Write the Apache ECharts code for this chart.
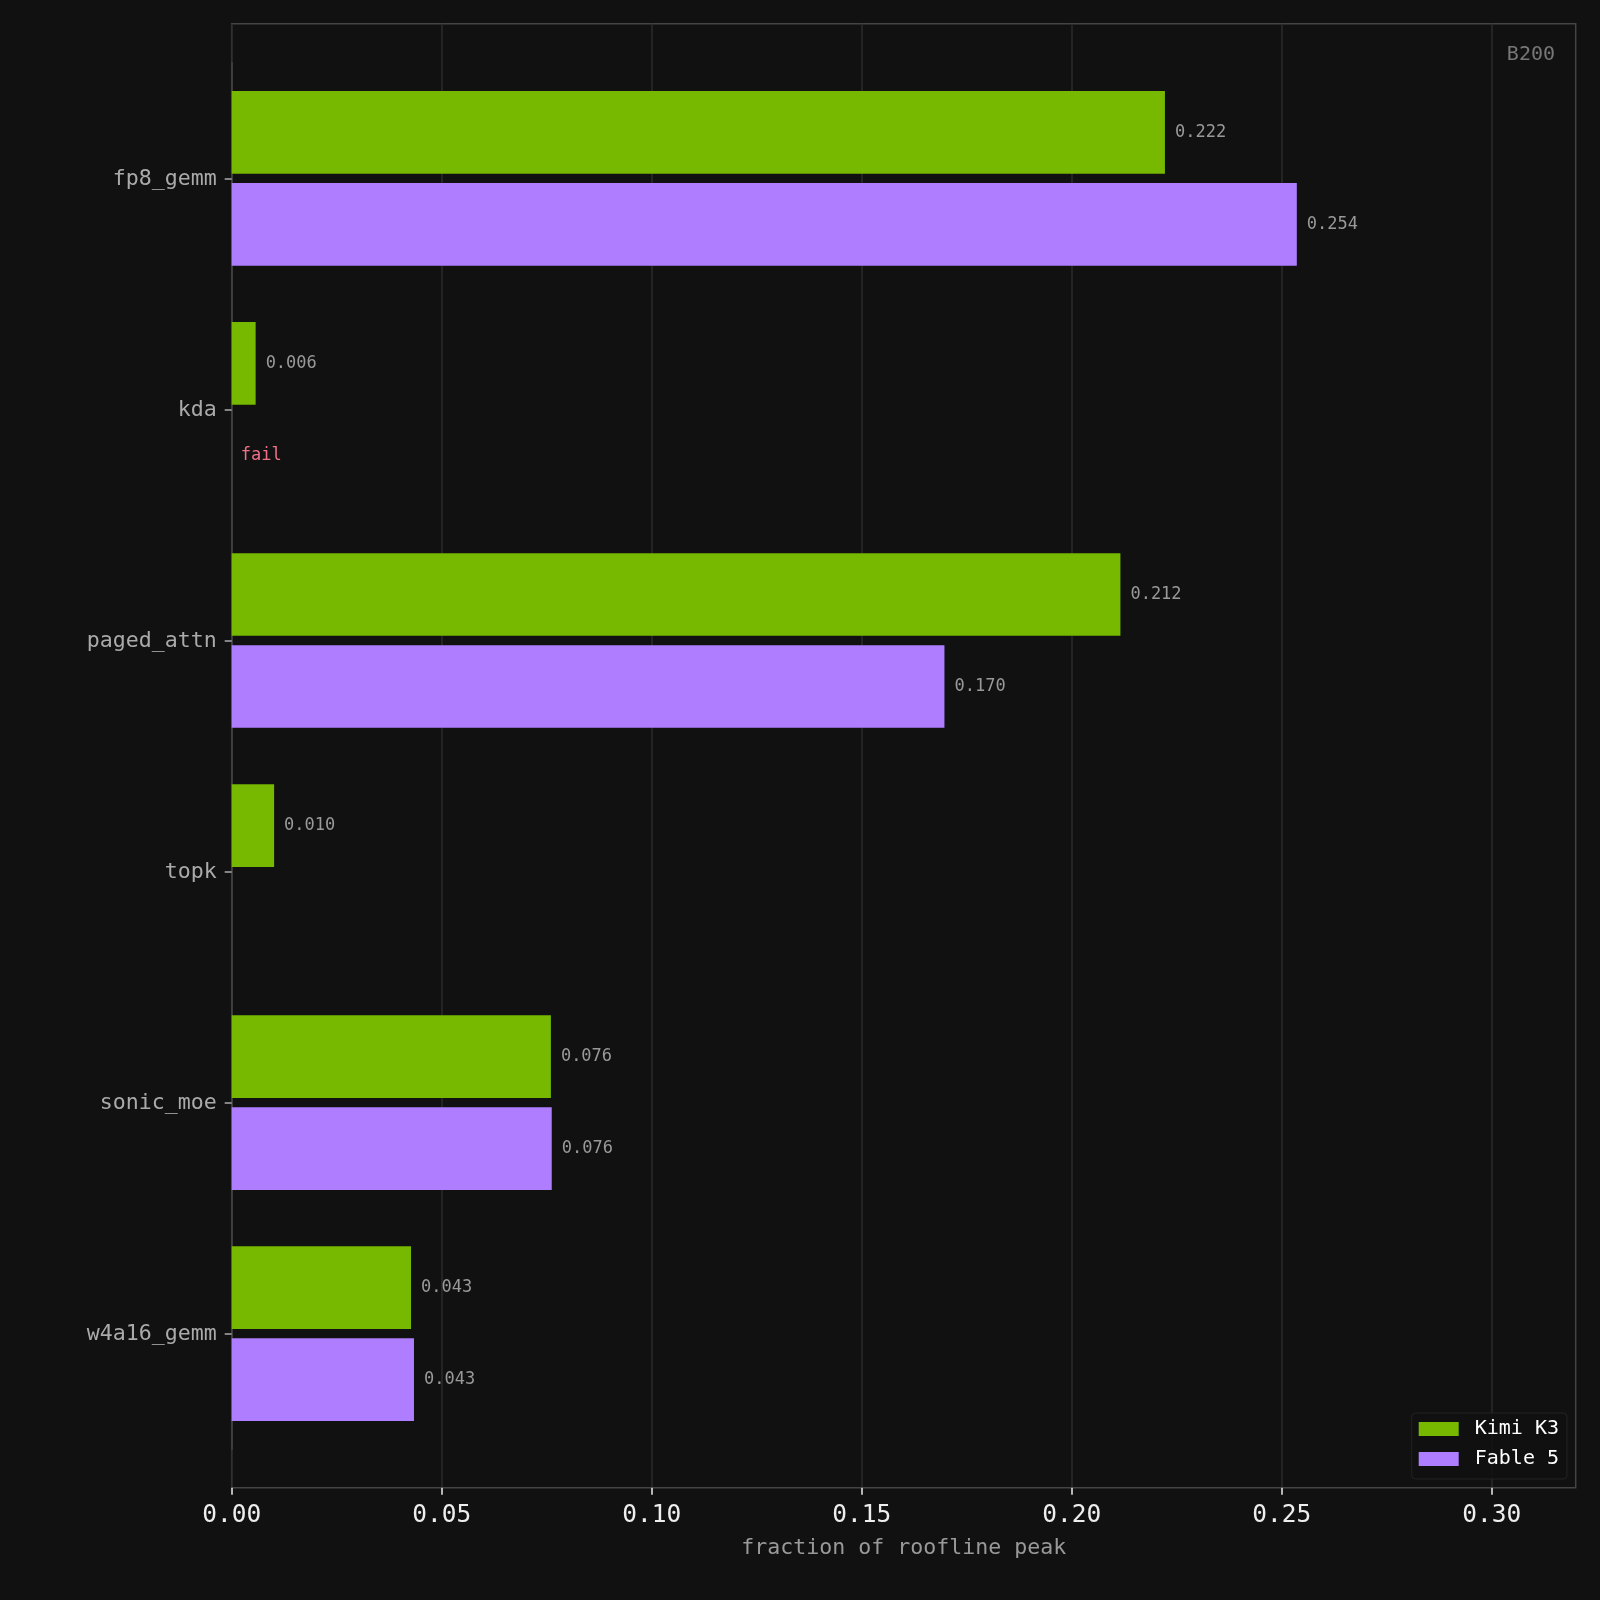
<!DOCTYPE html>
<html>
<head>
<meta charset="utf-8">
<script src="https://cdn.jsdelivr.net/npm/echarts@6/dist/echarts.min.js"></script>
<style>
html,body{margin:0;padding:0;background:#111111;}
#chart{width:1600px;height:1600px;}
</style>
</head>
<body>
<div id="chart"></div>
<script>
// ---- data ----
const categories = ['fp8_gemm', 'kda', 'paged_attn', 'topk', 'sonic_moe', 'w4a16_gemm'];
const kimiValues = [0.2222, 0.0057, 0.2116, 0.0101, 0.0760, 0.0427];
// null = no result; 'fail' = run failed
const fableValues = [0.2536, 'fail', 0.1697, null, 0.0762, 0.0434];
const xTicks = [0, 0.05, 0.10, 0.15, 0.20, 0.25, 0.30];
const xMax = 0.32;
const seriesNames = ['Kimi K3', 'Fable 5'];

const FONT = 'DejaVu Sans Mono';
const GREEN = '#76b900';
const PURPLE = '#af7dff';

const fableData = fableValues.map(v => {
  if (v === null) return '-';
  if (v === 'fail') return {
    value: 0,
    label: { show: true, formatter: 'fail', color: '#f0708a', fontSize: 17, fontFamily: FONT, distance: 9 }
  };
  return v;
});

const valueLabel = {
  show: true,
  position: 'right',
  distance: 10,
  color: '#999999',
  fontSize: 17,
  fontFamily: FONT,
  formatter: p => (typeof p.value === 'number' ? p.value.toFixed(3) : '')
};

const chart = echarts.init(document.getElementById('chart'), null, { renderer: 'canvas' });
chart.setOption({
  backgroundColor: '#111111',
  animation: false,
  textStyle: { fontFamily: FONT },
  grid: [
    { left: 231.7, right: 24.3, top: 23.7, bottom: 112.3, show: true, borderColor: '#444444', borderWidth: 1.5, backgroundColor: 'transparent' },
    { left: 231.7, right: 24.3, top: 62.85, bottom: 150.8 }
  ],
  xAxis: [
    {
      gridIndex: 0, type: 'value', min: 0, max: xMax,
      axisLine: { show: false },
      axisTick: { show: true, length: 7, lineStyle: { color: '#eeeeee', width: 1.5 }, customValues: xTicks },
      axisLabel: { color: '#eeeeee', fontSize: 24.5, fontFamily: FONT, margin: 15, customValues: xTicks,
        formatter: v => v.toFixed(2) },
      splitLine: { show: true, lineStyle: { color: '#2b2b2b', width: 1.5 } },
      name: 'fraction of roofline peak', nameLocation: 'middle', nameGap: 50,
      nameTextStyle: { color: '#999999', fontSize: 21.6, fontFamily: FONT }
    },
    { gridIndex: 1, type: 'value', min: 0, max: xMax, show: false }
  ],
  yAxis: [
    { gridIndex: 0, type: 'value', show: false },
    {
      gridIndex: 1, type: 'category', data: categories, inverse: true,
      axisLine: { show: true, lineStyle: { color: '#444444', width: 1.5 } },
      axisTick: { show: true, alignWithLabel: true, length: 7, lineStyle: { color: '#aaaaaa', width: 1.5 } },
      axisLabel: {
        color: '#aaaaaa', fontSize: 21.6, fontFamily: FONT, margin: 15,
        formatter: v => '{c|' + v + '}',
        rich: { c: { color: '#aaaaaa', fontSize: 21.6, fontFamily: FONT, padding: [2, 0, 0, 0] } }
      },
      splitLine: { show: false }
    }
  ],
  legend: {
    orient: 'vertical', right: 33, bottom: 121,
    itemWidth: 40, itemHeight: 14, itemGap: 10,
    icon: 'rect',
    padding: [6, 8, 10, 7],
    backgroundColor: 'rgba(17,17,17,0.85)',
    borderColor: '#222222', borderWidth: 1, borderRadius: 4,
    textStyle: { color: '#ffffff', fontSize: 20, fontFamily: FONT, lineHeight: 20, padding: [0, 0, 0, 11] },
    data: seriesNames
  },
  graphic: [
    { type: 'text', right: 45, top: 45, style: { text: 'B200', fill: '#777777', font: '20px "DejaVu Sans Mono"' } }
  ],
  series: [
    { name: seriesNames[0], type: 'bar', xAxisIndex: 1, yAxisIndex: 1, data: kimiValues,
      barWidth: 82.7, barGap: '11.2%', itemStyle: { color: GREEN }, label: valueLabel },
    { name: seriesNames[1], type: 'bar', xAxisIndex: 1, yAxisIndex: 1, data: fableData,
      barWidth: 82.7, barGap: '11.2%', itemStyle: { color: PURPLE }, label: valueLabel }
  ]
});
</script>
</body>
</html>
